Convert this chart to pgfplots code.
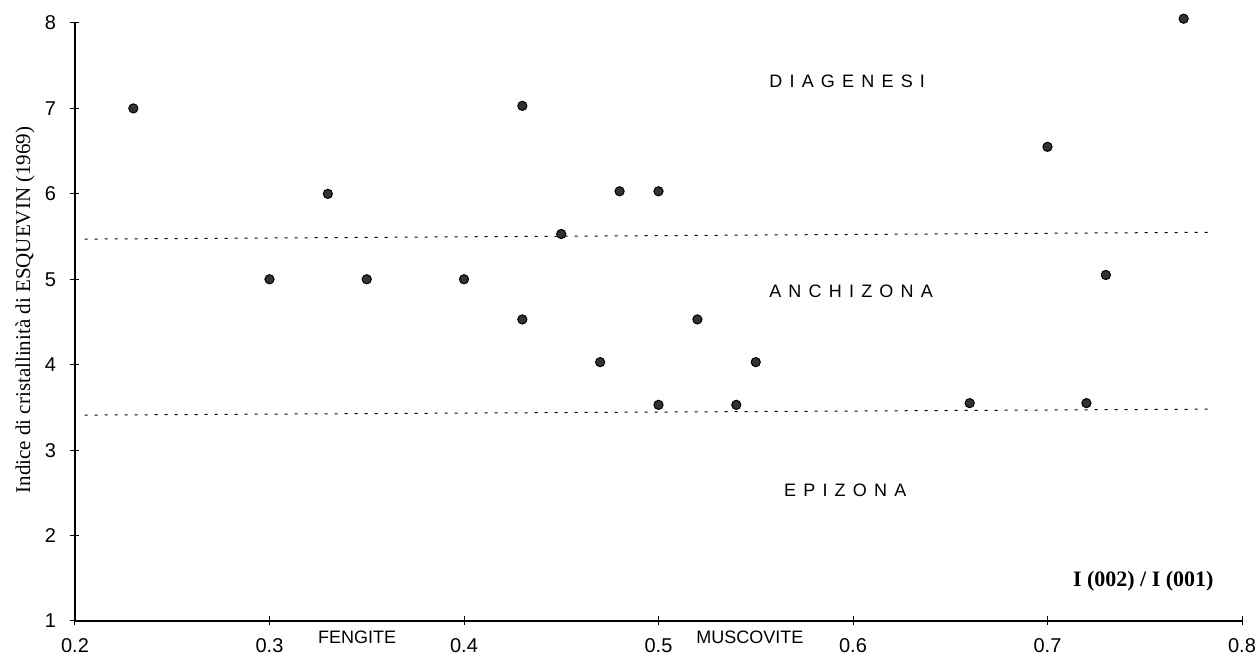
\documentclass[border=0pt]{standalone}
\usepackage{fontspec}
\setmainfont{Liberation Sans}
\newfontfamily\timesfont{Liberation Serif}
\usepackage{pgfplots}
\pgfplotsset{compat=1.18}
\usetikzlibrary{calc}

\pgfplotstableread{
x     y
0.23  7.00
0.30  5.00
0.33  6.00
0.35  5.00
0.40  5.00
0.43  7.03
0.43  4.53
0.45  5.53
0.47  4.03
0.48  6.03
0.50  6.03
0.50  3.53
0.52  4.53
0.54  3.53
0.55  4.03
0.66  3.55
0.70  6.55
0.72  3.55
0.73  5.05
0.77  8.05
}\campioni

\begin{document}
\begin{tikzpicture}
\begin{axis}[
  scale only axis, width=583.5pt, height=299pt,
  xmin=0.2, xmax=0.8, ymin=1, ymax=8,
  xtick={0.2,0.3,0.4,0.5,0.6,0.7,0.8},
  ytick={1,2,3,4,5,6,7,8},
  axis lines=left, axis line style={-, line width=0.6pt},
  tick align=center, major tick length=4.5pt,
  tick style={black, line width=0.5pt},
  /pgf/number format/assume math mode=true,
  ticklabel style={font=\fontsize{10}{12}\selectfont},
  xticklabel style={anchor=north, inner sep=0pt},
  yticklabel style={anchor=east, inner sep=0pt},
  xticklabel shift=6.5pt,
  yticklabel shift=7pt,
  every axis y label/.style={at={(axis description cs:-0.0428,0.52)}, rotate=90, anchor=center},
  ylabel={Indice di cristallinità di ESQUEVIN (1969)},
  ylabel style={font=\fontsize{10.5}{12.5}\selectfont\timesfont},
  clip=false,
]
\coordinate (bl) at (rel axis cs:0,0);
\coordinate (tr) at (rel axis cs:1,1);

% zone boundaries
\addplot[black, line width=0.5pt, dash pattern=on 1.5pt off 3.5pt] coordinates {(0.205,5.47) (0.785,5.55)};
\addplot[black, line width=0.5pt, dash pattern=on 1.5pt off 3.5pt] coordinates {(0.205,3.41) (0.785,3.48)};

% samples
\addplot[only marks, mark=*, mark size=2.3pt, mark options={fill=black!80, draw=black, line width=0.5pt}] table[x=x, y=y] {\campioni};

% zone names
\node[font=\fontsize{9}{11}\selectfont] at (axis cs:0.597,7.32) {\addfontfeature{LetterSpace=40}DIAGENESI};
\node[font=\fontsize{9}{11}\selectfont] at (axis cs:0.599,4.86) {\addfontfeature{LetterSpace=40}ANCHIZONA};
\node[font=\fontsize{9}{11}\selectfont] at (axis cs:0.596,2.53) {\addfontfeature{LetterSpace=40}EPIZONA};

% mica labels below the axis
\node[font=\fontsize{9}{11}\selectfont] at (axis cs:0.345,0.81) {FENGITE};
\node[font=\fontsize{9}{11}\selectfont] at (axis cs:0.547,0.81) {MUSCOVITE};

% x quantity
\node[font=\fontsize{11}{13}\selectfont\timesfont\bfseries, anchor=east] at (axis cs:0.789,1.47) {I (002) / I (001)};
\end{axis}
\pgfresetboundingbox
\path ($(bl)+(-37.5pt,-19.5pt)$) rectangle ($(tr)+(7pt,11.5pt)$);
\end{tikzpicture}
\end{document}
